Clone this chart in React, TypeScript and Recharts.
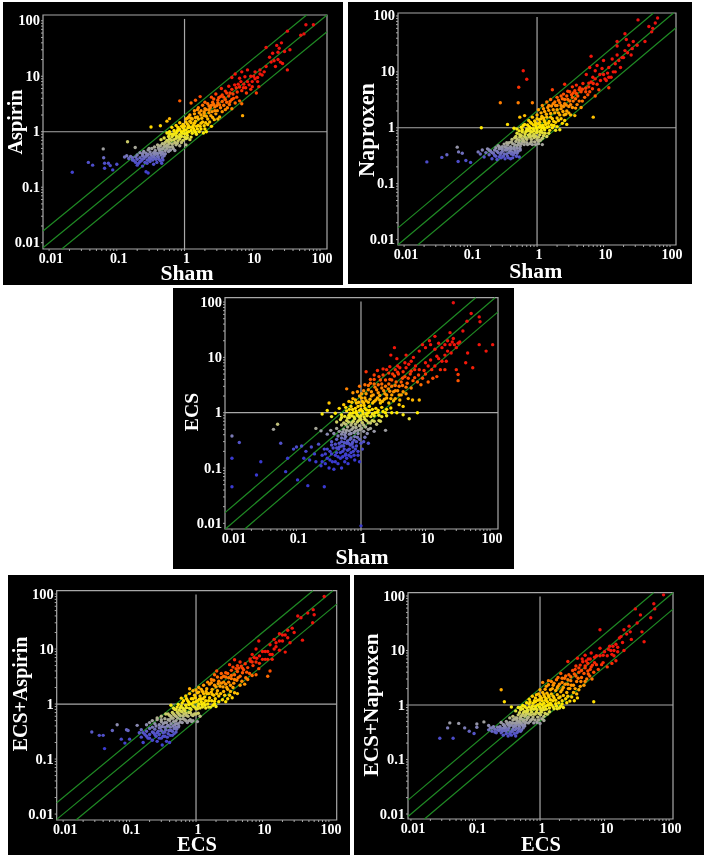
import React from "react";
import { ScatterChart, Scatter, XAxis, YAxis, ReferenceLine, ReferenceArea, Label } from "recharts";

type P = [number, number];

const decadeTicks = [0.01, 0.1, 1, 10, 100];
const minorTicks = [0.02,0.03,0.04,0.05,0.06,0.07,0.08,0.09,0.2,0.3,0.4,0.5,0.6,0.7,0.8,0.9,2,3,4,5,6,7,8,9,20,30,40,50,60,70,80,90];
const foldLines = [0.5, 1, 2];

const aspirinSham: P[] = [
[.022,.186],[.038,.28],[.044,.25],[.064,.34],[.063,.49],[.066,.27],[.066,.22],[.075,.27],[.08,.245],[.087,.205],[.1,.26],[.144,.66],[.187,.52],[.13,.35],[.14,.37],[.15,.33],[.16,.36],[.17,.34],[.18,.3],[.19,.35],[.2,.32],[.2,.38],[.21,.27],[.22,.34],[.23,.3],[.24,.37],[.25,.33],[.26,.28],[.27,.36],[.28,.31],[.29,.39],[.3,.34],[.31,.29],[.33,.36],[.34,.31],[.36,.38],[.37,.33],[.39,.28],[.4,.36],[.42,.32],[.45,.38],[.47,.34],[.5,.37],[.24,.24],[.27,.19],[.29,.18],[.2,.25],[.35,.26],[.46,.27],
[.22,.42],[.25,.44],[.27,.41],[.29,.47],[.31,.43],[.33,.5],[.35,.42],[.37,.46],[.39,.41],[.41,.52],[.43,.45],[.45,.49],[.47,.43],[.5,.54],[.52,.46],[.55,.5],[.58,.44],[.6,.53],[.62,.47],[.68,.5],[.72,.46],[.56,.58],[.4,.58],[.47,.61],[.52,.64],[.6,.62],[.66,.6],[.75,.58],[.85,.56],[1.05,.58],[.45,.72],[.5,.77],[.55,.7],[.6,.74],[.65,.8],[.7,.72],[.75,.76],[.8,.68],[.85,.74],[.95,.7],[1.05,.75],[1.2,.72],
[.32,1.22],[.44,1.28],[.55,1.55],[.6,1.72],[.65,1.2],[.55,.95],[.6,1.0],[.65,.9],[.7,1.05],[.75,.94],[.8,1.1],[.85,.88],[.9,1.0],[.95,1.18],[1,.92],[1.05,1.08],[1.1,.86],[1.15,1.0],[1.2,1.2],[1.3,.94],[1.4,1.05],[1.5,.9],[1.65,1.0],[1.9,.95],[2.1,1.0],[.75,1.3],[.85,1.45],[.95,1.35],[1.05,1.5],[1.15,1.28],[1.25,1.45],[1.35,1.3],[1.45,1.55],[1.6,1.3],[1.75,1.42],[1.95,1.28],[2.2,1.35],[2.5,1.25],
[.85,3.6],[1.1,1.75],[1.2,2],[1.3,1.7],[1.4,2.1],[1.55,1.85],[1.65,2.2],[1.8,1.75],[1.95,2.3],[2.1,1.9],[2.3,2.2],[2.6,1.8],[2.9,2.1],[3.3,1.85],[1.25,3.3],[1.45,3.7],[1.7,4.3],[1.6,2.7],[1.85,3],[2,2.6],[2.2,3.2],[2.4,2.7],[2.6,3.4],[2.8,2.8],[3.1,3.3],[3.4,2.7],[3.8,3],[4.3,2.7],[5,2.6],[2.5,4.2],[2.9,4.8],[3.2,4.1],[3.6,4.6],[4,3.8],[4.5,4.4],[5,3.8],[5.6,3.3],[7,3.2],[7.2,1.95],
[3.5,6],[4,5.4],[4.5,6.6],[5,5.8],[5.5,7],[6,5.2],[6.5,6.4],[7,5.5],[7.5,7.2],[8,6.2],[8.5,8],[5,9.5],[5.6,11],[6.5,9.2],[7,12],[7.8,9.8],[8.5,13],[9.5,10],[10,8],[11,12],[12,9.5],[12.5,6.5],[14,10.5],[13,13],[11.5,5],[15,12],[16,33],[19,18],[20,26],[22,15],[24,20],[25,32],[27,40],[28,17],[30,28],[23,36],[18,22],[33,13],[36,30],[33,65],[52,55],[58,58],[62,85],[80,85]
];
const aspirinShamCore: P[] = [
[.17,.31],[.19,.28],[.22,.29],[.24,.32],[.26,.35],[.28,.27],[.3,.31],[.32,.33],[.35,.35],[.38,.32],[.41,.35],[.44,.3],[.48,.31],[.24,.4],[.28,.38],[.32,.39],[.36,.41],[.4,.4],[.44,.42],[.48,.4],[.52,.4],[.3,.5],[.36,.53],[.42,.48],[.48,.5],[.54,.55],[.6,.46],[.66,.54],[.44,.56],[.5,.6],[.58,.66],[.64,.7],[.72,.64],[.78,.62],[.9,.64],[.58,.82],[.68,.86],[.76,.84],[.82,.8],[.9,.82],[1,.8],[1.1,.78],[1.25,.8],[.6,.9],[.7,.92],[.78,1.02],[.85,1.1],[.92,.94],[.98,1.05],[1.08,.95],[1.12,1.18],[1.25,1.05],[1.35,1.15],[1.45,.98],[1.55,1.12],[1.75,1.12],[2,1.12],[.8,1.2],[.9,1.25],[1,1.25],[1.1,1.38],[1.2,1.55],[1.3,1.2],[1.5,1.25],[1.4,1.42],[1.7,1.25],[1.85,1.5],[2.05,1.45],[2.35,1.5],[1.05,1.7],[1.15,1.85],[1.25,1.75],[1.45,1.8],[1.6,1.7],[1.75,2],[1.95,1.95],[2.2,1.7],[2.45,1.95],[2.75,1.65],[3.1,1.7],[1.4,2.4],[1.55,2.5],[1.75,2.4],[1.95,2.15],[2.1,2.5],[2.3,2.5],[2.55,2.3],[2.8,2.4],[3.05,2.4],[3.6,2.3],[2,3.4],[2.3,2.9],[2.5,3],[2.7,3.1],[3,2.95],[3.3,3.05],[3.6,3.5],[4,2.5],[4.6,3.1],[2.7,3.9],[3.1,3.7],[3.4,4.3],[3.8,4.2],[4.2,3.4],[4.7,3.5],[5.3,4],[5.9,4.2],[6.5,3.6],[4.2,5],[4.7,5],[5.2,4.8],[5.8,6.2],[6.2,7.2],[6.8,8],[7.4,6.2],[8.2,5],[9,7],[9.5,5.8],[10,6.5],[11,9],[12,8],[13,11],[10.5,10],[16,15],[21,19],[24,27],[26,18]
];

const naproxenSham: P[] = [
[.022,.245],[.037,.295],[.044,.33],[.063,.45],[.066,.37],[.075,.35],[.065,.25],[.085,.26],[.1,.24],[.145,1],[.28,2.8],[.52,2.8],[.53,5.3],[.62,10.5],[.7,7.4],[.85,2.8],[.13,.37],[.14,.34],[.15,.4],[.16,.3],[.17,.36],[.18,.42],[.19,.33],[.2,.38],[.21,.28],[.22,.35],[.23,.4],[.24,.31],[.25,.27],[.26,.36],[.27,.42],[.28,.33],[.29,.29],[.3,.38],[.32,.34],[.33,.28],[.35,.4],[.36,.31],[.38,.36],[.4,.28],[.42,.37],[.44,.33],[.47,.39],[.5,.35],[.54,.3],[.56,.4],
[.24,.44],[.26,.48],[.28,.43],[.3,.46],[.32,.51],[.34,.44],[.36,.49],[.38,.54],[.4,.46],[.43,.52],[.45,.45],[.48,.57],[.5,.48],[.53,.54],[.56,.47],[.6,.56],[.64,.5],[.7,.54],[.78,.52],[.85,.5],[.95,.5],[1.05,.52],[1.2,.5],[.42,.62],[.46,.66],[.5,.63],[.55,.68],[.6,.64],[.65,.7],[.7,.62],[.76,.68],[.82,.62],[.9,.66],[1,.62],[1.12,.6],[.5,.8],[.55,.75],[.6,.84],[.66,.78],[.72,.88],[.78,.76],[.84,.84],[.9,.76],[.98,.82],[1.1,.75],[1.25,.72],[1.4,.7],
[.36,1.15],[.45,.98],[.5,.95],[.58,1.02],[.65,1.15],[.7,.95],[.76,1.05],[.82,1.2],[.88,.96],[.95,1.1],[1,.92],[1.08,1.02],[1.15,.9],[1.22,1.1],[1.3,.92],[1.42,1.02],[1.55,.9],[1.7,1],[1.9,.9],[2.2,.92],[.75,1.35],[.85,1.55],[.92,1.32],[1,1.7],[1.08,1.4],[1.18,1.6],[1.28,1.35],[1.4,1.55],[1.52,1.3],[1.7,1.45],[1.9,1.25],[2.1,1.35],[2.4,1.2],[2.8,1.15],[.65,1.65],[.55,1.55],
[1.05,2.1],[1.2,2.5],[1.3,1.95],[1.45,2.3],[1.6,1.8],[1.75,2.1],[1.9,2.5],[2.1,1.85],[2.3,2.2],[2.55,1.7],[2.8,2],[3.2,1.7],[3.7,1.65],[1.4,2.9],[1.6,3.2],[1.7,4.8],[1.85,2.9],[2,3.5],[2.2,2.8],[2.4,3.3],[2.6,2.7],[2.9,3.2],[3.2,2.6],[3.5,3],[4,2.6],[4.6,2.3],[7,1.55],[2.6,6],[2.5,4],[2.9,4.5],[3.3,3.9],[3.7,4.6],[4.1,3.7],[4.6,4.4],[5.2,3.5],[5.8,3.9],[3.4,5.4],[3.9,5.8],[4.4,5.2],[4.9,6.2],[5.4,5.1],[6,6.3],[6.8,5],[7.5,3.7],[8.5,4.8],
[5.5,9],[6.2,12],[6.5,19],[6.9,8],[7.5,10.5],[8,13],[8.8,9],[9.5,11.5],[10.5,7.5],[11.5,9.5],[12,12],[13,8],[14,10],[12,5.2],[10,16],[13.5,17],[15,14],[16,20],[16,29],[18,12],[19,18],[21,24],[22,38],[24,30],[26,20],[28,35],[32,30],[33,85],[21,48],[16,35],[42,35],[48,65],[53,52],[55,60],[60,75],[65,92]
];
const naproxenShamCore: P[] = [
[.19,.4],[.21,.36],[.23,.32],[.25,.38],[.27,.3],[.29,.36],[.31,.31],[.33,.4],[.35,.34],[.37,.29],[.39,.39],[.41,.34],[.43,.29],[.46,.36],[.49,.31],[.52,.38],[.27,.46],[.3,.42],[.33,.46],[.37,.43],[.41,.42],[.45,.42],[.5,.43],[.55,.43],[.35,.54],[.41,.56],[.46,.5],[.52,.5],[.58,.52],[.64,.56],[.72,.5],[.82,.56],[.92,.56],[1.05,.58],[.48,.7],[.54,.6],[.58,.72],[.62,.6],[.68,.66],[.74,.74],[.8,.7],[.88,.72],[.95,.7],[1.05,.68],[1.2,.65],[.54,.88],[.6,.92],[.68,.86],[.74,.92],[.8,.86],[.9,.88],[1,.84],[1.1,.85],[1.2,.82],[1.32,.8],[1.5,.8],[.62,1.1],[.72,1.12],[.8,.98],[.88,1.12],[.98,1],[1.05,1.18],[1.12,1.1],[1.18,1],[1.28,1],[1.35,1.15],[1.5,1.05],[1.65,1.12],[1.8,1.1],[2,1.05],[.8,1.25],[.95,1.22],[1,1.45],[1.1,1.25],[1.15,1.45],[1.25,1.5],[1.32,1.25],[1.48,1.2],[1.6,1.55],[1.78,1.3],[2,1.5],[2.3,1.45],[2.6,1.35],[1.15,1.85],[1.25,2.2],[1.38,1.75],[1.5,2.05],[1.65,2.45],[1.85,1.85],[2,2.1],[2.2,1.7],[2.45,1.95],[2.7,1.75],[3,1.85],[1.5,2.5],[1.75,2.7],[2,2.5],[2.3,2.5],[2.5,2.4],[2.75,2.55],[3,2.4],[3.4,2.3],[3.8,2.25],[2.1,3.1],[2.3,3.7],[2.6,3.2],[2.8,3.7],[3.1,3],[3.4,3.5],[3.8,3.3],[4.3,3],[4.8,3],[3.1,4.4],[3.5,4.2],[3.9,4.1],[4.3,4.8],[4.8,4.9],[5.4,4.4],[6.2,4.4],[6,5.4],[6.5,6.6],[7,6.2],[7.5,7.5],[8,6],[9,7],[10,9],[11,7],[12,8],[15,10],[17,16],[20,18],[23,22],[27,26]
];

const ecsSham: P[] = [
[.01,.046],[.01,.15],[.01,.38],[.013,.29],[.028,.13],[.024,.075],[.044,.5],[.051,.62],[.057,.28],[.068,.086],[.073,.15],[.104,.061],[.15,.048],[.27,.046],[.09,.22],[.1,.24],[.12,.25],[.13,.15],[.14,.2],[.16,.14],[.17,.24],[.19,.18],[.2,.13],[.22,.27],[.24,.11],[.25,.17],[.27,.22],[.28,.12],[.3,.15],[.32,.1],[.33,.2],[.35,.26],[.36,.13],[.38,.095],[.4,.17],[.42,.23],[.44,.12],[.46,.28],[.48,.15],[.5,.1],[.52,.2],[.54,.25],[.56,.13],[.58,.18],[.6,.28],[.63,.12],[.66,.22],[.7,.16],[.72,.27],[.76,.2],[.8,.14],[.85,.25],[.9,.2],[.95,.13],[1.05,.22],[1.1,.3],[1.3,.28],[.35,.3],[.42,.33],[.5,.3],[.56,.34],[.62,.31],[.7,.35],[.78,.32],[.88,.36],
[.2,.52],[.24,.47],[.3,.41],[.34,.48],[.38,.42],[.42,.52],[.46,.46],[.5,.41],[.54,.5],[.58,.44],[.62,.55],[.66,.41],[.72,.5],[.78,.44],[.84,.54],[.9,.42],[.98,.5],[1.1,.46],[1.25,.42],[1.4,.52],[1.6,.46],[2.4,.48],[.25,.95],[.3,1.1],[.35,.85],[.32,1.5],[.42,.68],[.48,.75],[.54,.65],[.6,.72],[.66,.82],[.72,.66],[.8,.78],[.88,.68],[.96,.8],[1.05,.66],[1.15,.76],[1.3,.66],[1.5,.72],[1.75,.62],[2,.7],
[.4,.98],[.46,1.2],[.5,.92],[.54,1.4],[.6,1.08],[.65,.9],[.7,1.3],[.76,1],[.82,1.2],[.88,.9],[.95,1.1],[1,1.35],[1.08,.95],[1.15,1.2],[1.25,.88],[1.35,1.1],[1.5,.95],[1.7,1.2],[1.9,.9],[2.2,1.05],[2.5,.88],[3,1],[3.6,1],[4.5,.92],[5.6,.78],[7.5,1],[.65,1.6],[.75,1.8],[.85,1.5],[.95,2],[1.05,1.6],[1.15,1.85],[1.3,1.55],[1.45,2],[1.6,1.6],[1.8,1.85],[2,1.5],[2.3,1.75],[2.7,1.5],[3.2,1.65],[3.9,1.4],[4.5,1.3],[.6,2.7],[.75,2.3],[.95,3],[1.1,2.5],[1.3,3.1],[1.45,2.4],[1.65,2.9],[1.85,2.3],[2.1,2.8],[2.35,2.2],[2.65,2.7],[3,2.1],[3.4,2.5],[3.9,2.1],[4.5,2.4],[5.4,1.8],[6.3,1.7],[8,1.7],
[1.2,5.5],[1.4,4],[1.6,4.8],[1.8,5.8],[2,3.9],[2.2,4.8],[2.5,6],[2.8,4],[3.1,5],[3.3,15],[3.6,9.5],[3.5,3.6],[4,6.5],[4.4,4.2],[4.8,8],[5.2,3.4],[5.8,5],[6.4,3.8],[7,7],[7.8,4.8],[8.5,3.2],[9.5,5.8],[2.9,11],[3.7,7],[5,11],[6.5,10],[8,13],[9,17],[10,8],[11,3.6],[11.5,20],[12.5,6],[14,24],[15,4.5],[16,9.5],[18,15],[20,6],[21,8.5],[22,20],[24,28],[25,12],[27,97],[28,17],[30,6],[32,4.9],[32,3.8],[34,19],[38,30],[42,8],[45,12],[51,62],[54,6.5],[68,54],[70,44],[68,17],[87,13],[110,17],[44,45],[1,.009]
];
const ecsShamCore: P[] = [
[.25,.13],[.28,.18],[.3,.22],[.33,.14],[.35,.18],[.37,.23],[.4,.13],[.42,.19],[.44,.16],[.45,.22],[.48,.19],[.5,.25],[.52,.16],[.55,.22],[.57,.17],[.6,.15],[.62,.21],[.65,.17],[.68,.26],[.7,.19],[.75,.24],[.78,.17],[.82,.22],[.9,.17],[.4,.27],[.46,.24],[.5,.35],[.55,.29],[.58,.37],[.64,.28],[.68,.33],[.74,.29],[.8,.37],[.85,.3],[.95,.33],[1,.28],[1.15,.36],[.44,.38],[.52,.45],[.56,.4],[.6,.48],[.66,.47],[.7,.42],[.76,.54],[.82,.47],[.9,.48],[.95,.58],[1.02,.52],[1.18,.55],[1.3,.5],[.5,.6],[.58,.62],[.64,.68],[.7,.6],[.76,.7],[.82,.62],[.92,.72],[1,.75],[1.1,.6],[1.22,.72],[1.4,.65],[1.6,.7],[1.9,.72],[.5,.82],[.56,.86],[.62,.8],[.68,.98],[.72,.88],[.78,.84],[.85,.98],[.92,.86],[1,.88],[1.06,1.05],[1.12,.84],[1.2,.95],[1.3,1],[1.42,.85],[1.6,.88],[1.8,1.02],[2.1,.85],[2.4,1],[.58,1.25],[.66,1.15],[.74,1.14],[.84,1.05],[.9,1.3],[1,1.15],[1.12,1.35],[1.22,1.12],[1.35,1.3],[1.5,1.15],[1.65,1],[1.85,1.1],[2.1,1.25],[2.5,1.15],[2.9,1.22],[.72,1.55],[.82,1.7],[.92,1.55],[1.02,1.85],[1.1,1.5],[1.2,1.65],[1.38,1.75],[1.52,1.5],[1.7,1.7],[1.95,1.7],[2.15,1.6],[2.5,1.85],[2.9,1.8],[3.4,1.8],[4,1.7],[.88,2.4],[1.02,2.2],[1.2,2.2],[1.3,2.6],[1.55,2.1],[1.75,2.6],[1.95,2.05],[2.25,2.5],[2.5,2.1],[2.8,2.45],[3.2,2.4],[3.7,2.5],[4.2,2.1],[5,2.2],[1.15,3.2],[1.4,3.4],[1.6,3.3],[1.85,3.2],[2.1,3.3],[2.4,3],[2.7,3.3],[3,3],[3.4,3.1],[3.9,3],[4.4,3.1],[5,2.9],[6,2.8],[1.6,4],[1.9,4.5],[2.4,3.9],[2.7,5.2],[3,3.9],[3.3,4.6],[3.8,5],[4.2,3.6],[4.8,4.5],[5.4,4.2],[6,5.6],[6.8,4.3],[7.5,3.6],[2.2,6.2],[2.8,6.8],[3.4,6],[3.7,5.4],[4.5,5.5],[5,6.5],[5.5,7.5],[6,8.5],[6.8,6],[8,6],[9,4.2],[10,5],[11,7],[12,9],[13,4.2],[14,7],[15,10.5],[17,6],[18,8.5],[20,11],[20,17],[22,13],[24,17],[26,19],[27,22],[30,15],[32,18],[10,15],[12,17],[14,14],[16,18]
];

const ecsAspirin: P[] = [
[.027,.31],[.035,.27],[.04,.27],[.042,.155],[.055,.33],[.065,.42],[.075,.23],[.09,.34],[.085,.195],[.1,.23],[.13,.41],[.095,.33],[.14,.3],[.15,.25],[.15,.34],[.16,.2],[.17,.28],[.18,.32],[.19,.24],[.2,.36],[.2,.28],[.22,.22],[.23,.3],[.24,.35],[.25,.26],[.26,.21],[.27,.32],[.28,.28],[.29,.37],[.3,.24],[.31,.18],[.32,.3],[.34,.26],[.35,.34],[.36,.21],[.38,.29],[.4,.2],[.42,.33],[.44,.27],[.47,.36],[.5,.31],[.54,.38],
[.18,.42],[.2,.46],[.22,.5],[.24,.44],[.26,.52],[.28,.42],[.3,.48],[.32,.44],[.34,.54],[.36,.46],[.38,.41],[.4,.5],[.42,.44],[.45,.55],[.48,.42],[.5,.5],[.54,.44],[.58,.53],[.62,.46],[.68,.52],[.74,.46],[.82,.52],[.9,.5],[1.05,.48],[.3,.6],[.35,.66],[.4,.62],[.44,.7],[.48,.62],[.52,.72],[.56,.64],[.6,.74],[.64,.6],[.7,.68],[.76,.6],[.82,.7],[.9,.62],[1,.66],[1.15,.6],[.26,.56],
[.42,.95],[.46,.84],[.5,.8],[.54,.98],[.58,.86],[.62,1.05],[.66,.8],[.7,.95],[.75,1.15],[.8,.84],[.85,1],[.9,1.25],[.95,.88],[1,1.1],[1.05,.82],[1.1,1],[1.18,1.25],[1.25,.88],[1.32,1.05],[1.4,.85],[1.5,1],[1.65,.88],[1.8,.95],[2,.9],[.6,1.28],[.7,1.4],[.8,1.55],[.95,1.45],[.8,1.9],[.9,1.75],[1.05,1.6],[1.15,1.4],[1.25,1.7],[1.35,1.35],[1.45,1.55],[1.6,1.3],[1.75,1.5],[1.95,1.25],[2.2,1.4],[2.5,1.2],[3,1.25],[3.5,1.3],
[1.1,2],[1.3,2.2],[1.45,1.9],[1.6,2.3],[1.75,1.85],[1.9,2.2],[2.1,1.75],[2.3,2.1],[2.6,1.7],[2.9,2],[3.3,1.7],[3.8,1.6],[4.2,1.55],[1.7,2.8],[1.9,3.4],[2.05,4],[2.2,2.6],[2.4,3],[2.6,2.5],[2.8,3.1],[3.1,2.5],[3.4,2.9],[3.7,2.4],[4.1,2.7],[4.6,2.2],[5.4,2.3],[3,3.6],[3.4,4.1],[3.8,3.4],[4.2,3.9],[4.6,3.2],[5,3.7],[5.6,3],[6,2.8],[7,3.3],[8,3.4],
[3.2,5.2],[3.8,6.4],[4.2,5],[4.6,5.8],[5,4.5],[5.5,5.4],[6,4.6],[6.6,6],[7.2,5],[8,5.8],[8.8,4.4],[7,8],[8,10],[9,7.5],[10,9],[8.8,14],[11,6.5],[12,3.2],[13,4],[12,9],[13,12],[14,6.5],[15,15],[14,8],[16,11],[18,9.5],[18,19],[20,14],[22,18],[22,8.8],[24,22],[26,13],[28,24],[30,20],[34,40],[38,37],[40,14.5],[48,45],[57,30],[58,52],[60,42],[85,90]
];
const ecsAspirinCore: P[] = [
[.16,.3],[.18,.26],[.2,.24],[.22,.31],[.24,.28],[.26,.3],[.28,.24],[.3,.33],[.32,.26],[.34,.31],[.37,.25],[.39,.33],[.41,.27],[.44,.32],[.47,.29],[.51,.35],[.22,.38],[.25,.4],[.28,.37],[.31,.39],[.34,.38],[.37,.4],[.41,.38],[.45,.4],[.5,.38],[.55,.4],[.3,.52],[.34,.46],[.38,.52],[.42,.55],[.46,.48],[.5,.44],[.53,.56],[.58,.47],[.64,.54],[.7,.5],[.78,.5],[.86,.48],[.38,.66],[.42,.6],[.46,.66],[.5,.6],[.54,.68],[.58,.62],[.62,.72],[.66,.66],[.72,.62],[.78,.7],[.86,.64],[.95,.66],[1.08,.68],[.48,.8],[.52,.88],[.56,.78],[.6,.92],[.64,.84],[.68,.76],[.72,.86],[.78,.98],[.84,.8],[.9,.92],[1,.82],[1.08,.92],[1.15,.85],[1.22,.98],[1.36,.95],[1.55,.88],[1.9,1],[.65,1.15],[.72,1.25],[.78,1.08],[.85,1.25],[.92,1.08],[.98,1.3],[1.05,1.15],[1.12,1.22],[1.2,1.1],[1.28,1.25],[1.4,1.15],[1.55,1.15],[1.72,1.15],[1.9,1.12],[2.2,1.1],[2.8,1.1],[1,1.8],[1.1,1.65],[1.2,1.85],[1.3,1.55],[1.42,1.7],[1.55,1.55],[1.7,1.65],[1.85,1.45],[2.05,1.55],[2.35,1.55],[2.7,1.45],[3.2,1.45],[1.5,2.5],[1.7,2.45],[1.85,2.7],[2,2.05],[2.15,2.35],[2.4,2.4],[2.55,2.05],[2.8,2.3],[3,1.85],[3.3,2.2],[3.6,2],[2.1,3.1],[2.4,3.6],[2.6,3.2],[2.8,3.7],[3.1,3],[3.4,3.3],[3.8,2.8],[4.3,3],[4.9,2.6],[3.6,4.7],[4,4.4],[4.4,4.5],[4.8,4.9],[5.2,4.2],[5.8,3.8],[6.4,3.6],[6.5,6.6],[7,5.8],[7.5,7],[8.2,6.8],[9,5.5],[10,6.5],[11,9],[12,6.5],[13,8],[15,10],[16,13],[18,14],[20,18],[24,16]
];

const ecsNaproxen: P[] = [
[.028,.245],[.037,.38],[.04,.47],[.045,.245],[.055,.46],[.068,.38],[.08,.33],[.095,.3],[.105,.45],[.105,.39],[.135,.49],[.16,.42],[.16,.35],[.17,.38],[.18,.33],[.19,.4],[.2,.36],[.21,.31],[.22,.39],[.23,.34],[.24,.4],[.25,.31],[.26,.37],[.27,.28],[.28,.34],[.29,.39],[.3,.3],[.31,.36],[.32,.27],[.33,.38],[.35,.32],[.36,.28],[.38,.36],[.4,.3],[.42,.27],[.43,.37],[.46,.33],[.48,.39],[.52,.35],[.55,.38],
[.25,.48],[.27,.44],[.3,.5],[.32,.43],[.34,.48],[.36,.43],[.38,.53],[.4,.46],[.42,.42],[.44,.52],[.46,.46],[.49,.56],[.52,.44],[.55,.5],[.58,.45],[.62,.54],[.66,.47],[.72,.53],[.8,.47],[.9,.48],[1,.46],[1.15,.52],[.34,.58],[.38,.62],[.42,.58],[.46,.66],[.5,.6],[.54,.68],[.58,.62],[.62,.7],[.66,.6],[.72,.66],[.78,.6],[.84,.68],[.92,.6],[1.02,.66],[1.15,.62],[1.3,.68],
[.36,.92],[.42,.78],[.46,.9],[.5,.82],[.54,.98],[.58,.76],[.62,.88],[.68,1.05],[.72,.82],[.76,.95],[.82,1.2],[.86,.86],[.92,1],[.98,1.25],[1.02,.86],[1.08,1],[1.15,.82],[1.22,.95],[1.3,1.15],[1.4,.88],[1.5,1],[1.65,.85],[1.8,.95],[2,.88],[2.3,.9],[.25,1.9],[.28,1.15],[.68,1.28],[.76,1.45],[.85,1.35],[.95,1.6],[1,1.9],[1.05,1.35],[1.15,1.55],[1.25,1.3],[1.35,1.5],[1.45,1.25],[1.6,1.45],[1.75,1.22],[1.95,1.35],[2.2,1.2],[2.5,1.3],[2.9,1.18],[3.4,1.2],[3.8,1.35],[6.8,1.15],
[1.1,2.6],[1.25,2.2],[1.35,2.8],[1.45,1.9],[1.6,2.3],[1.75,1.85],[1.9,2.2],[2.1,1.75],[2.3,2.1],[2.6,1.7],[2.9,2],[3.3,1.7],[3.7,1.6],[1.5,2.7],[1.8,2.9],[2.1,3.8],[2.2,2.6],[2.4,3.1],[2.7,2.4],[3,2.8],[3.3,2.3],[3.7,2.7],[4.2,2.2],[4.8,2.3],[2.8,3.6],[3.2,4.3],[3.6,3.4],[4,4],[4.4,3.2],[4.8,3.8],[5.3,3],[5.9,3.4],[6.4,3],
[2.7,6.3],[3.8,7.2],[3.6,5.2],[4.2,5.4],[4.6,6.2],[5,4.8],[5.5,5.8],[6,4.5],[6.5,5.4],[5,8.2],[5.6,7],[6.2,9],[7,6],[8,4.5],[7.5,8],[8.5,11],[9.5,6],[10,9.5],[11,5],[12,12],[13,8.5],[14,10],[15,6.5],[15,13],[16,11.5],[17,17],[19,14],[20,10],[8.5,24],[13,5.8],[20,24],[24,28],[26,16],[32,32],[38,22],[30,58],[36,45],[41,14.5],[52,40],[58,72],[60,58],[82,105]
];
const ecsNaproxenCore: P[] = [
[.18,.38],[.2,.32],[.22,.35],[.24,.36],[.26,.33],[.28,.38],[.3,.34],[.32,.35],[.34,.3],[.37,.33],[.39,.4],[.41,.35],[.44,.31],[.47,.37],[.5,.33],[.28,.42],[.31,.46],[.34,.42],[.37,.47],[.4,.41],[.43,.47],[.47,.42],[.5,.47],[.54,.42],[.58,.41],[.4,.55],[.44,.58],[.48,.5],[.52,.55],[.56,.53],[.6,.48],[.64,.58],[.7,.5],[.76,.55],[.84,.53],[.95,.53],[1.08,.56],[.48,.72],[.52,.64],[.56,.74],[.6,.66],[.64,.76],[.68,.68],[.74,.74],[.8,.68],[.88,.74],[.96,.7],[1.05,.74],[1.2,.7],[1.4,.75],[.5,.9],[.54,.85],[.58,.94],[.64,.8],[.68,.92],[.74,.88],[.8,.84],[.85,.94],[.9,.82],[.98,.92],[1.05,.8],[1.12,.9],[1.25,.84],[1.35,1],[1.6,.92],[1.85,.85],[2.1,.95],[.62,1.1],[.7,1.15],[.78,1.08],[.85,1.15],[.92,1.22],[1,1.06],[1.08,1.2],[1.15,1.08],[1.22,1.22],[1.32,1],[1.45,1.08],[1.58,1.2],[1.75,1.06],[1.95,1.1],[2.2,1.04],[2.6,1.1],[.88,1.55],[1,1.45],[1.1,1.7],[1.18,1.4],[1.28,1.65],[1.38,1.4],[1.5,1.6],[1.65,1.35],[1.85,1.55],[2.05,1.4],[2.3,1.5],[2.7,1.45],[3.1,1.4],[1.2,1.95],[1.35,2.35],[1.55,2],[1.65,2.5],[1.85,2.05],[2,2.4],[2.2,1.9],[2.45,2.4],[2.75,2],[3.05,2.3],[3.5,2],[4,1.9],[1.9,3.2],[2.2,3.1],[2.5,3.4],[2.7,2.9],[3,3.3],[3.4,3.7],[3.9,3.1],[4.3,2.7],[5,2.7],[5.6,3.7],[3.5,4.5],[4,4.8],[4.4,4.3],[5,5.2],[5.5,4.2],[6.2,5],[6.8,4],[4.5,7],[5.2,6.4],[6,7],[7,7.5],[7.5,5.5],[8.5,8],[9,5.5],[9.5,8.2],[11,8],[11.5,10.5],[12.5,10],[13.5,12],[14,8],[16,9.5],[18,18],[22,20],[25,22]
];

const panels = [
  { left: 3, top: 2, width: 340, height: 283, box: [43, 15, 327, 249], xDomain: [0.00813, 127], yDomain: [0.0077, 127], xTitle: "Sham", xAt: [187, 280], yTitle: "Aspirin", yAt: [21.7, 122], yFont: 20.2, xFont: 21.7, points: [...aspirinSham, ...aspirinShamCore] },
  { left: 348, top: 2, width: 344, height: 282, box: [398, 13, 676, 245], xDomain: [0.0081, 123], yDomain: [0.008, 113], xTitle: "Sham", xAt: [535.7, 278], yTitle: "Naproxen", yAt: [374, 130], yFont: 22.4, xFont: 21.7, points: [...naproxenSham, ...naproxenShamCore] },
  { left: 173, top: 288, width: 341, height: 281, box: [225, 297.7, 498, 529], xDomain: [0.0078, 133], yDomain: [0.0079, 120], xTitle: "Sham", xAt: [362, 564], yTitle: "ECS", yAt: [198, 412], yFont: 19.7, xFont: 21.7, points: [...ecsSham, ...ecsShamCore] },
  { left: 8, top: 575, width: 342, height: 280, box: [56.7, 590.7, 336.7, 820], xDomain: [0.008, 131], yDomain: [0.0078, 115], xTitle: "ECS", xAt: [197, 851], yTitle: "ECS+Aspirin", yAt: [26.7, 694], yFont: 20, xFont: 20.5, points: [...ecsAspirin, ...ecsAspirinCore] },
  { left: 354, top: 575, width: 350, height: 280, box: [408, 592.7, 673, 819], xDomain: [0.009, 115], yDomain: [0.0081, 115], xTitle: "ECS", xAt: [541, 851], yTitle: "ECS+Naproxen", yAt: [378, 705], yFont: 21.3, xFont: 20.5, points: [...ecsNaproxen, ...ecsNaproxenCore] },
];

const FONT = "'Liberation Serif', serif";
const GRID = "#a8a8a8";
const GREEN = "#1f8a24";

const colorStops: [number, number[]][] = [
  [0.15, [58, 58, 208]], [0.3, [84, 84, 200]], [0.42, [140, 140, 175]], [0.58, [180, 180, 140]],
  [0.75, [222, 222, 70]], [1, [255, 236, 0]], [1.6, [255, 190, 0]], [2.5, [255, 140, 0]],
  [4, [255, 80, 0]], [7, [245, 24, 8]], [100, [232, 16, 16]],
];

function colorFor(y: number) {
  if (y <= colorStops[0][0]) return `rgb(${colorStops[0][1].join(",")})`;
  for (let i = 1; i < colorStops.length; i++) {
    const [a, ca] = colorStops[i - 1];
    const [b, cb] = colorStops[i];
    if (y <= b) {
      const t = Math.log(y / a) / Math.log(b / a);
      return `rgb(${ca.map((c, k) => Math.round(c + (cb[k] - c) * t)).join(",")})`;
    }
  }
  return "rgb(232,16,16)";
}

const Dot = (props: any) => {
  if (props.cx == null || props.cy == null) return null;
  return <circle cx={props.cx} cy={props.cy} r={1.7} fill={colorFor(props.payload.y)} />;
};

const allTicks = [...decadeTicks, ...minorTicks].sort((a, b) => a - b);

function Panel({ p }: { p: (typeof panels)[number] }) {
  const [bl, bt, br, bb] = p.box;
  const YW = 40;
  const XH = 24;
  const margin = {
    left: bl - p.left - YW,
    top: bt - p.top,
    right: p.left + p.width - br,
    bottom: p.top + p.height - bb - XH,
  };
  const rows = p.points.map(([x, y]) => ({ x, y }));
  const [x0, x1] = p.xDomain;
  const [y0, y1] = p.yDomain;
  const lx = p.xAt[0] - p.left;
  const ly = p.xAt[1] - p.top;
  const tx = p.yAt[0] - p.left;
  const ty = p.yAt[1] - p.top;

  const xTick = (t: any) => {
    const major = decadeTicks.includes(t.payload.value);
    const axisY = bb - p.top;
    return (
      <g>
        <line x1={t.x} x2={t.x} y1={axisY} y2={axisY + 2} stroke={GRID} strokeWidth={1} />
        {major && (
          <text x={t.x + 2} y={axisY + 14} textAnchor="middle" fill="#fff" fontFamily={FONT} fontWeight={700} fontSize={14}>
            {t.payload.value}
          </text>
        )}
      </g>
    );
  };
  const yTick = (t: any) => {
    const major = decadeTicks.includes(t.payload.value);
    const axisX = bl - p.left;
    return (
      <g>
        <line x1={axisX - 2} x2={axisX} y1={t.y} y2={t.y} stroke={GRID} strokeWidth={1} />
        {major && (
          <text x={axisX - 3} y={t.y + 4.5} textAnchor="end" fill="#fff" fontFamily={FONT} fontWeight={700} fontSize={14.5}>
            {t.payload.value}
          </text>
        )}
      </g>
    );
  };

  return (
    <div style={{ position: "absolute", left: p.left, top: p.top, width: p.width, height: p.height, background: "#000" }}>
      <ScatterChart width={p.width} height={p.height} margin={margin}>
        <XAxis
          type="number" dataKey="x" scale="log" domain={[x0, x1]} allowDataOverflow
          ticks={allTicks} interval={0} tick={xTick} tickLine={false} axisLine={false} height={XH}
        >
          <Label
            content={() => (
              <text x={lx} y={ly} textAnchor="middle" fill="#fff" fontFamily={FONT} fontWeight={700} fontSize={p.xFont}>
                {p.xTitle}
              </text>
            )}
          />
        </XAxis>
        <YAxis
          type="number" dataKey="y" scale="log" domain={[y0, y1]} allowDataOverflow
          ticks={allTicks} interval={0} tick={yTick} tickLine={false} axisLine={false} width={YW}
        >
          <Label
            content={() => (
              <text
                x={tx} y={ty} textAnchor="middle" fill="#fff" fontFamily={FONT} fontWeight={700} fontSize={p.yFont}
                transform={`rotate(-90 ${tx} ${ty})`}
              >
                {p.yTitle}
              </text>
            )}
          />
        </YAxis>
        <ReferenceArea x1={x0} x2={x1} y1={y0} y2={y1} fill="none" stroke={GRID} strokeWidth={1.2} fillOpacity={0} />
        <ReferenceLine y={1} stroke={GRID} strokeWidth={1.2} />
        <ReferenceLine segment={[{ x: 1, y: y0 }, { x: 1, y: y1 * 0.85 }]} stroke={GRID} strokeWidth={1.2} />
        <Scatter data={rows} isAnimationActive={false} shape={Dot} />
        {foldLines.map((k) => (
          <ReferenceLine
            key={k}
            segment={[
              { x: Math.max(x0, y0 / k), y: Math.max(x0, y0 / k) * k },
              { x: Math.min(x1, y1 / k), y: Math.min(x1, y1 / k) * k },
            ]}
            stroke={GREEN}
            strokeWidth={1.2}
          />
        ))}
      </ScatterChart>
    </div>
  );
}

export default function App() {
  return (
    <div style={{ position: "absolute", left: 0, top: 0, width: 704, height: 858, background: "#fff", overflow: "hidden", filter: "blur(0.45px)" }}>
      {panels.map((p) => (
        <Panel key={p.yTitle} p={p} />
      ))}
    </div>
  );
}
